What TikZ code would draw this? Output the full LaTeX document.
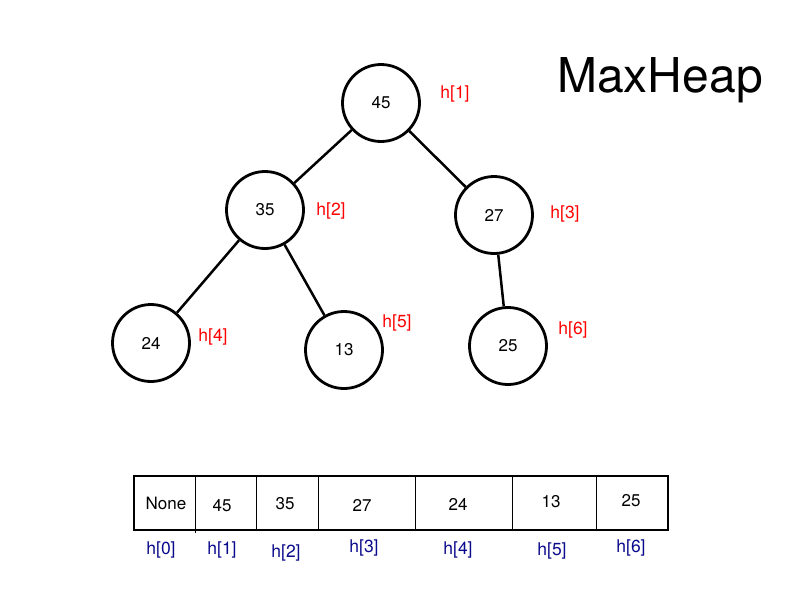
\documentclass[tikz,border=0pt]{standalone}
\usepackage{fontspec}
\setmainfont{TeX Gyre Heros}
\definecolor{hred}{RGB}{255,0,0}
\definecolor{hblue}{RGB}{10,10,140}
\begin{document}
\begin{tikzpicture}[x=1pt,y=-1pt,
  heapnode/.style={circle,draw=black,line width=2.8pt,minimum size=77pt,inner sep=0pt,font=\fontsize{17}{20}\selectfont},
  edge/.style={line width=2.5pt},
  redlbl/.style={text=hred,font=\fontsize{17.5}{21}\selectfont,inner sep=0pt},
  bluelbl/.style={text=hblue,font=\fontsize{17.5}{21}\selectfont,inner sep=0pt},
  celltxt/.style={font=\fontsize{17}{20}\selectfont,inner sep=0pt},
  arr/.style={line width=2.2pt},
  divider/.style={line width=1pt}]
\useasboundingbox (0,0) rectangle (800,600);
\fill[white] (0,0) rectangle (800,600);

% tree nodes
\node[heapnode] (n1) at (381,103) {45};
\node[heapnode] (n2) at (265,210) {35};
\node[heapnode] (n3) at (494,215) {27};
\node[heapnode] (n4) at (151,343) {24};
\node[heapnode] (n5) at (344,350) {13};
\node[heapnode] (n6) at (508,346) {25};

\draw[edge] (n1) -- (n2);
\draw[edge] (n1) -- (n3);
\draw[edge] (n2) -- (n4);
\draw[edge] (n2) -- (n5);
\draw[edge] (n3) -- (n6);

% red index labels
\node[redlbl] (l1) at (455,94) {h[1]};
\node[redlbl] (l2) at (331,211) {h[2]};
\node[redlbl] (l3) at (565,214) {h[3]};
\node[redlbl] (l4) at (213,337) {h[4]};
\node[redlbl] (l5) at (397,323) {h[5]};
\node[redlbl] (l6) at (573,330) {h[6]};

% title
\node[font=\fontsize{48}{56}\selectfont,inner sep=0pt] (title) at (660,80) {MaxHeap};

% array
\draw[arr] (134,476) rectangle (668,530);
\draw[divider] (195,476) -- (195,533);
\draw[divider] (256,476) -- (256,530);
\draw[divider] (318,476) -- (318,530);
\draw[divider] (415,476) -- (415,530);
\draw[divider] (512,476) -- (512,530);
\draw[divider] (596,476) -- (596,530);

\node[celltxt] (c0) at (166,503) {None};
\node[celltxt] (c1) at (222,506) {45};
\node[celltxt] (c2) at (285,504) {35};
\node[celltxt] (c3) at (362,505) {27};
\node[celltxt] (c4) at (458,504) {24};
\node[celltxt] (c5) at (551,502) {13};
\node[celltxt] (c6) at (631,501) {25};

\node[bluelbl] (b0) at (161,550) {h[0]};
\node[bluelbl] (b1) at (222,550) {h[1]};
\node[bluelbl] (b2) at (286,553) {h[2]};
\node[bluelbl] (b3) at (364,548) {h[3]};
\node[bluelbl] (b4) at (458,550) {h[4]};
\node[bluelbl] (b5) at (552,551) {h[5]};
\node[bluelbl] (b6) at (631,548) {h[6]};
\end{tikzpicture}
\end{document}
